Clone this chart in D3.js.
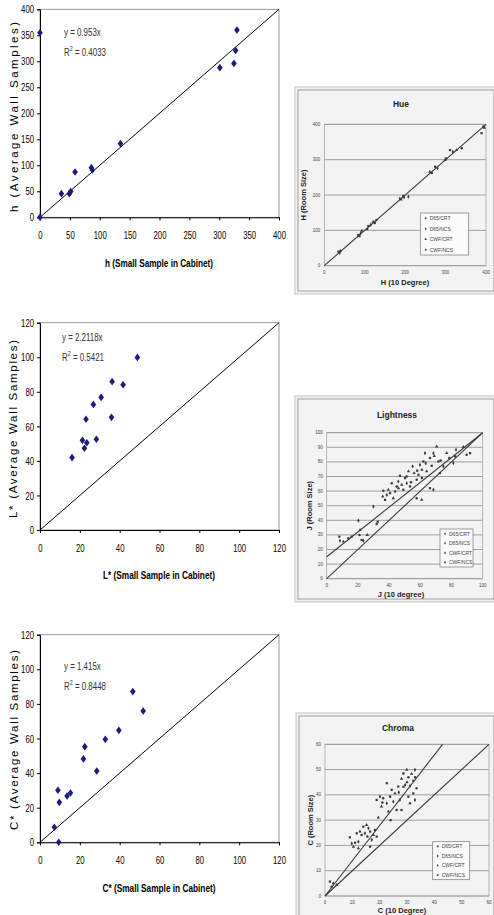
<!DOCTYPE html>
<html><head><meta charset="utf-8">
<script src="https://cdn.jsdelivr.net/npm/d3@7"></script>
<style>body{margin:0;background:#fff}svg{display:block}</style>
</head><body><svg id="c" width="494" height="915"></svg>
<script>
// ---------- left charts data ----------
const hX = [0, 0, 35.8, 49, 51.4, 58.7, 86, 87.7, 134.6, 301, 324.6, 327.4, 329.6];
const hY = [355, 0, 45.5, 45.5, 49.4, 87, 95.5, 91, 141.7, 287.8, 296, 321, 360];
const hTicks = [0, 50, 100, 150, 200, 250, 300, 350, 400];

const lX = [16.1, 21.3, 22.3, 23.5, 23.1, 26.8, 28.3, 30.7, 35.9, 36.2, 41.7, 48.9];
const lY = [41.9, 51.9, 47.3, 50.5, 64.1, 72.7, 52.5, 76.8, 65.2, 85.9, 84.1, 99.9];
const lTicks = [0, 20, 40, 60, 80, 100, 120];

const cX = [7.2, 9.0, 9.7, 9.4, 13.6, 15.3, 21.8, 22.5, 28.5, 32.8, 39.6, 46.6, 51.8];
const cY = [8.7, 30.1, 23.1, 0, 26.8, 28.5, 48.2, 55.3, 41.2, 59.5, 64.7, 87.1, 75.9];
const cTicks = [0, 20, 40, 60, 80, 100, 120];

const eqTexts = ["y = 0.953x", "y = 2.2118x", "y = 1.415x"];
const r2Values = ["0.4033", "0.5421", "0.8448"];

// ---------- right (reference figure) data ----------
const legendLabels = ["D65/CRT", "D65/NCS", "CWF/CRT", "CWF/NCS"];
const hueRefX = [35, 38, 40, 84, 87, 90, 93, 106, 109, 115, 121, 125, 129, 187, 190, 195, 197, 208, 261, 266, 274, 280, 299, 301, 311, 318, 327, 340, 389, 393, 396];
const hueRefY = [40, 36, 42, 87, 84, 92, 99, 104, 112, 116, 124, 121, 129, 190, 187, 197, 193, 195, 266, 262, 280, 276, 299, 303, 327, 322, 327, 332, 375, 393, 390];
const hueTicks = [0, 100, 200, 300, 400];

const ltRefX = [8.1, 8.5, 10.7, 13.9, 16, 20.3, 21.4, 21, 22.4, 23.5, 26, 32, 32.7, 29.9, 35.9, 36.3, 37.4, 38.5, 39.5, 41.7, 40.6, 43.8, 42.7, 44.9, 47, 45.9, 48.1, 49.1, 50.2, 51.3, 52.4, 51.3, 53.4, 55.1, 56, 57.7, 58.8, 59.8, 61, 61, 62, 63, 64.1, 66.2, 67.3, 68.4, 70.5, 71.6, 72.6, 74.8, 76.9, 78.6, 82.3, 82.9, 87.6, 89.7, 91.9, 81.2, 60.9, 57.7, 66.2, 68.4, 46, 54, 58, 63.5, 69, 73];
const ltRefY = [28.8, 26, 25.4, 27.7, 28.8, 39.8, 33.4, 30, 26.5, 26, 30, 37.5, 39, 49.4, 56.3, 60.2, 54, 57.4, 60.9, 65.4, 58.6, 59.7, 55.1, 63.2, 70.5, 66.6, 64.3, 60.9, 68.9, 65.4, 73.5, 70, 63.2, 76.9, 72.3, 67.7, 71.2, 78, 74.6, 68.9, 80.3, 86, 73.5, 82.6, 77.3, 86, 90.6, 80.3, 72.3, 76.9, 86, 82.6, 83.8, 88.3, 90.2, 84.9, 86, 79.2, 54, 55.1, 62, 60.9, 62, 66, 74, 79, 84, 81];
const ltXTicks = [0, 20, 40, 60, 80, 100];
const ltYTicks = [0, 10, 20, 30, 40, 50, 60, 70, 80, 90, 100];

const chRefX = [1.8, 3, 4.3, 2.4, 9.1, 9.8, 10.4, 11, 11.6, 12.2, 12.8, 13.4, 14, 14.6, 15.2, 15.5, 16.5, 17.1, 17.7, 18.3, 18.9, 15.9, 12.2, 16.5, 18.9, 20.1, 20.7, 21.3, 22.6, 22.6, 23.2, 23.8, 24.4, 25, 25.6, 26.2, 26.8, 27.4, 28, 28.7, 28.7, 29.3, 29.9, 30.5, 30.5, 31.1, 31.7, 32.3, 32.3, 32.9, 31.1, 28, 33.5, 32.9, 19.5, 21, 24, 27, 30, 33];
const chRefY = [5.7, 5, 4.4, 3.7, 23.2, 20.8, 19.5, 21.1, 24.8, 21.5, 25.5, 24.1, 27.4, 24.8, 28.1, 23.5, 25.5, 22.2, 24.1, 26.1, 23.5, 26.8, 18.9, 19.5, 38, 39.3, 35.4, 38.7, 44.6, 36.7, 33.4, 39.3, 42, 37.3, 40.6, 34, 43.3, 38, 46.4, 48.5, 43.2, 43.9, 49.9, 47, 39.3, 43.5, 48.3, 45.6, 40.6, 49.9, 36.7, 34, 42.6, 38, 31, 37, 30, 41, 45, 47];
const chTicks = [0, 10, 20, 30, 40, 50, 60];

const svg = d3.select("#c");
const SANS = "'Liberation Sans',Arial,sans-serif";
const NAVY = "#1c1c7c";

function leftChart(o) {
  const x = d3.scaleLinear().domain([0, o.max]).range([40, 279]);
  const y = d3.scaleLinear().domain([0, o.max]).range([o.bottom, o.top]);
  const g = svg.append("g");
  g.append("rect").attr("x", 40).attr("y", o.top).attr("width", 239).attr("height", o.bottom - o.top)
    .attr("fill", "none").attr("stroke", "#808080").attr("stroke-width", 0.8);
  g.append("line").attr("x1", x(0)).attr("y1", y(0)).attr("x2", x(o.max)).attr("y2", y(o.max))
    .attr("stroke", "#000").attr("stroke-width", 1);
  const ya = g.append("g").attr("transform", "translate(40,0)")
    .call(d3.axisLeft(y).tickValues(o.ticks).tickSize(3).tickPadding(3).tickFormat(d3.format("d")));
  const xa = g.append("g").attr("transform", `translate(0,${o.bottom})`)
    .call(d3.axisBottom(x).tickValues(o.ticks).tickSize(3).tickPadding(11).tickFormat(d3.format("d")));
  [ya, xa].forEach(a => {
    a.select(".domain").attr("stroke", "#000").attr("stroke-width", 1);
    a.selectAll(".tick line").attr("stroke", "#000");
    a.selectAll("text").attr("font-family", SANS).attr("font-size", 11.5).attr("fill", "#000")
      .attr("textLength", d => String(d).length * 4.3).attr("lengthAdjust", "spacingAndGlyphs");
  });
  const diamond = "M0,-3.8L2.8,0L0,3.8L-2.8,0Z";
  g.selectAll("path.pt").data(o.xs.map((v, i) => [v, o.ys[i]])).enter().append("path")
    .attr("class", "pt").attr("d", diamond)
    .attr("transform", d => `translate(${x(d[0])},${y(d[1])})`).attr("fill", NAVY);
  // equation (narrowed)
  const eg = g.append("g").attr("transform", `translate(${o.eqX},${o.eqY}) scale(0.72,1)`);
  eg.append("text").attr("x", 0).attr("y", 0).attr("font-family", SANS)
    .attr("font-size", 11).attr("fill", "#333").text(o.eq);
  const r2 = eg.append("text").attr("x", 0).attr("y", 20).attr("font-family", SANS)
    .attr("font-size", 11).attr("fill", "#333");
  r2.append("tspan").text("R");
  r2.append("tspan").attr("dy", -4.5).attr("font-size", 7.5).text("2");
  r2.append("tspan").attr("dy", 4.5).text(" = " + o.r2);
  // y title
  g.append("text").attr("transform", `translate(${o.ytX},${o.ytY}) rotate(-90)`)
    .attr("text-anchor", "middle").attr("font-family", SANS).attr("font-size", 11.5)
    .attr("textLength", o.ytLen).attr("lengthAdjust", "spacing").attr("fill", "#000").text(o.yTitle);
  // x title
  g.append("text").attr("x", 159).attr("y", o.xtY).attr("text-anchor", "middle")
    .attr("font-family", SANS).attr("font-size", 11).attr("font-weight", "bold").attr("fill", "#000")
    .attr("textLength", o.xtLen).attr("lengthAdjust", "spacingAndGlyphs")
    .text(o.xTitle);
}

leftChart({max: 400, top: 9.3, bottom: 217.3, ticks: hTicks, xs: hX, ys: hY, eq: eqTexts[0], r2: r2Values[0],
  eqX: 64, eqY: 36, ytX: 18, ytY: 117, ytLen: 190, yTitle: "h (Average Wall Samples)", xtY: 267, xtLen: 108,
  xTitle: "h (Small Sample in Cabinet)"});
leftChart({max: 120, top: 322.7, bottom: 530, ticks: lTicks, xs: lX, ys: lY, eq: eqTexts[1], r2: r2Values[1],
  eqX: 62, eqY: 341, ytX: 17, ytY: 429, ytLen: 178, yTitle: "L* (Average Wall Samples)", xtY: 579, xtLen: 112,
  xTitle: "L* (Small Sample in Cabinet)"});
leftChart({max: 120, top: 634.7, bottom: 842.3, ticks: cTicks, xs: cX, ys: cY, eq: eqTexts[2], r2: r2Values[2],
  eqX: 64, eqY: 670, ytX: 18, ytY: 740, ytLen: 180, yTitle: "C* (Average Wall Samples)", xtY: 892, xtLen: 113,
  xTitle: "C* (Small Sample in Cabinet)"});

// ---------- right panels ----------
function refPanel(o) {
  const g = svg.append("g");
  g.append("rect").attr("x", o.px).attr("y", o.py).attr("width", o.pw).attr("height", o.ph)
    .attr("fill", "#efefef").attr("stroke", "#d6d6d6").attr("stroke-width", 1.5);
  g.append("rect").attr("x", o.px + 3).attr("y", o.py + 3).attr("width", o.pw - 6).attr("height", o.ph - 6)
    .attr("fill", "#f3f3f3").attr("stroke", "#8c8c8c").attr("stroke-width", 0.8);
  const x = d3.scaleLinear().domain([0, o.max]).range([o.l, o.r]);
  const y = d3.scaleLinear().domain([0, o.max]).range([o.b, o.t]);
  g.selectAll("line.gr").data(o.yTicks).enter().append("line").attr("class", "gr")
    .attr("x1", o.l).attr("x2", o.r).attr("y1", d => y(d)).attr("y2", d => y(d))
    .attr("stroke", "#8a8a8a").attr("stroke-width", 0.8);
  g.append("rect").attr("x", o.l).attr("y", o.t).attr("width", o.r - o.l).attr("height", o.b - o.t)
    .attr("fill", "none").attr("stroke", "#9a9a9a").attr("stroke-width", 0.7);
  g.selectAll("text.yt").data(o.yTicks).enter().append("text").attr("class", "yt")
    .attr("x", o.l - 4).attr("y", d => y(d) + 1.5).attr("text-anchor", "end")
    .attr("font-family", SANS).attr("font-size", 4.5).attr("fill", "#444").text(d => d);
  g.selectAll("text.xt").data(o.xTicks).enter().append("text").attr("class", "xt")
    .attr("x", d => x(d)).attr("y", o.b + 8).attr("text-anchor", "middle")
    .attr("font-family", SANS).attr("font-size", 4.5).attr("fill", "#444").text(d => d);
  o.lines.forEach(L => {
    g.append("line").attr("x1", x(L[0])).attr("y1", y(L[1])).attr("x2", x(L[2])).attr("y2", y(L[3]))
      .attr("stroke", "#3a3a3a").attr("stroke-width", 1.1);
  });
  const sym = [d3.symbolSquare, d3.symbolDiamond, d3.symbolTriangle, d3.symbolCircle];
  g.selectAll("path.rp").data(o.xs.map((v, i) => [v, o.ys[i], i % 4])).enter().append("path")
    .attr("class", "rp").attr("d", d => d3.symbol().type(sym[d[2]]).size(5)())
    .attr("transform", d => `translate(${x(d[0])},${y(d[1])})`).attr("fill", "#3a3a3a");
  g.append("text").attr("x", o.tx).attr("y", o.ty).attr("text-anchor", "middle")
    .attr("font-family", SANS).attr("font-size", 8.5).attr("font-weight", "bold").attr("fill", "#222").text(o.title);
  g.append("text").attr("x", o.tx + 4).attr("y", o.xly).attr("text-anchor", "middle")
    .attr("font-family", SANS).attr("font-size", 7.5).attr("font-weight", "bold").attr("fill", "#222").text(o.xLabel);
  g.append("text").attr("transform", `translate(${o.ylx},${(o.t + o.b) / 2}) rotate(-90)`)
    .attr("text-anchor", "middle").attr("font-family", SANS).attr("font-size", 7.5)
    .attr("font-weight", "bold").attr("fill", "#222").text(o.yLabel);
  const lg = g.append("g").attr("transform", `translate(${o.lgx},${o.lgy})`);
  lg.append("rect").attr("width", o.lgw).attr("height", o.lgh).attr("fill", "#fafafa")
    .attr("stroke", "#777").attr("stroke-width", 0.7);
  legendLabels.forEach((t, i) => {
    const yy = (i + 0.5) * o.lgh / 4;
    lg.append("path").attr("d", d3.symbol().type(sym[i]).size(3)())
      .attr("transform", `translate(5,${yy})`).attr("fill", "#444");
    lg.append("text").attr("x", 9).attr("y", yy + 1.8).attr("font-family", SANS).attr("font-size", 5)
      .attr("fill", "#444").text(t);
  });
}

refPanel({px: 295, py: 87, pw: 202, ph: 207, max: 400, l: 324.3, r: 486, t: 124.3, b: 265.7,
  yTicks: hueTicks, xTicks: hueTicks, lines: [[0, 0, 400, 400]], xs: hueRefX, ys: hueRefY,
  title: "Hue", tx: 401, ty: 107, xLabel: "H (10 Degree)", xly: 285, yLabel: "H (Room Size)", ylx: 306,
  lgx: 420.7, lgy: 213, lgw: 48, lgh: 42});
refPanel({px: 295, py: 396, pw: 202, ph: 206, max: 100, l: 326.7, r: 482.7, t: 432.7, b: 578.7,
  yTicks: ltYTicks, xTicks: ltXTicks, lines: [[0, 0, 100, 100], [0, 15, 100, 100]], xs: ltRefX, ys: ltRefY,
  title: "Lightness", tx: 397, ty: 418, xLabel: "J  (10 degree)", xly: 597, yLabel: "J (Room Size)", ylx: 312,
  lgx: 440, lgy: 529, lgw: 33, lgh: 38});
refPanel({px: 296, py: 713, pw: 201, ph: 210, max: 60, l: 325, r: 489, t: 744.3, b: 896,
  yTicks: chTicks, xTicks: chTicks, lines: [[0, 0, 60, 60], [0, 0, 43, 60]], xs: chRefX, ys: chRefY,
  title: "Chroma", tx: 398, ty: 731, xLabel: "C (10 Degree)", xly: 913, yLabel: "C (Room Size)", ylx: 313,
  lgx: 432.7, lgy: 841.7, lgw: 37, lgh: 38});
</script></body></html>
